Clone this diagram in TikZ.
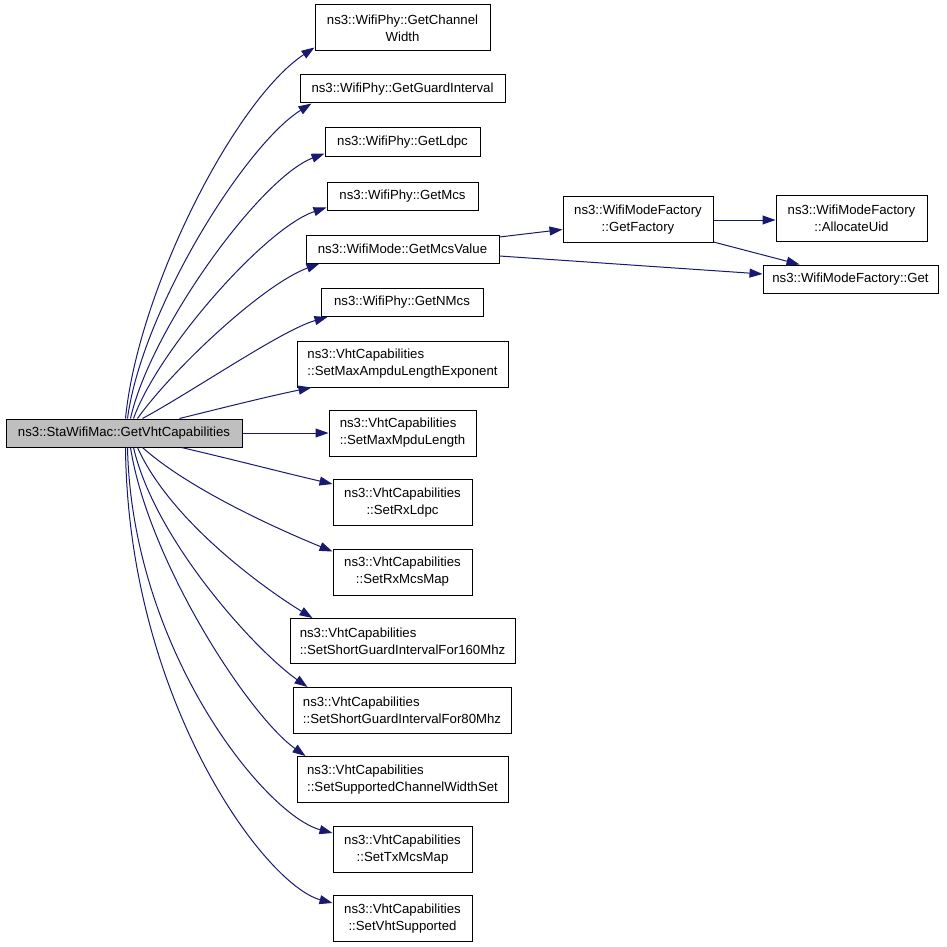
\documentclass[tikz,border=0pt]{standalone}
\usepackage{fontspec}
\setmainfont{Liberation Sans}
\usetikzlibrary{arrows.meta,calc}
\definecolor{edgeblue}{HTML}{191970}
\definecolor{maingrey}{HTML}{BFBFBF}
\tikzset{
  box/.style={draw=black,line width=1pt,fill=white,inner sep=0pt,
    font=\fontsize{13.2}{17}\selectfont,align=center},
  lbox/.style={box,align=left},
  call/.style={draw=edgeblue,line width=1pt,
    -{Triangle[length=13pt,width=9pt,fill=edgeblue]}}
}
\begin{document}
\begin{tikzpicture}[x=1pt,y=-1pt]
\useasboundingbox (0,0) rectangle (947,947);
% nodes
\node[box,fill=maingrey,minimum width=236pt,minimum height=28pt] (main) at (124,433) {ns3::StaWifiMac::GetVhtCapabilities};
\node[box,minimum width=175pt,minimum height=46pt] (cw) at (402.5,28) {ns3::WifiPhy::GetChannel\\Width};
\node[box,minimum width=205pt,minimum height=28pt] (gi) at (402.5,89) {ns3::WifiPhy::GetGuardInterval};
\node[box,minimum width=155pt,minimum height=28pt] (ldpc) at (402.5,142) {ns3::WifiPhy::GetLdpc};
\node[box,minimum width=151pt,minimum height=28pt] (mcs) at (402.5,196) {ns3::WifiPhy::GetMcs};
\node[box,minimum width=193pt,minimum height=28pt] (mcsv) at (402.5,249) {ns3::WifiMode::GetMcsValue};
\node[box,minimum width=162pt,minimum height=28pt] (nmcs) at (402,302.5) {ns3::WifiPhy::GetNMcs};
\node[lbox,minimum width=211pt,minimum height=46pt] (ampdu) at (402.5,364) {ns3::VhtCapabilities\\::SetMaxAmpduLengthExponent};
\node[lbox,minimum width=147pt,minimum height=46pt] (mpdu) at (402.5,433) {ns3::VhtCapabilities\\::SetMaxMpduLength};
\node[box,minimum width=139pt,minimum height=46pt] (rxldpc) at (402.5,502.5) {ns3::VhtCapabilities\\::SetRxLdpc};
\node[box,minimum width=139pt,minimum height=46pt] (rxmcs) at (402.5,572) {ns3::VhtCapabilities\\::SetRxMcsMap};
\node[lbox,minimum width=225pt,minimum height=45pt] (sgi160) at (402.5,641) {ns3::VhtCapabilities\\::SetShortGuardIntervalFor160Mhz};
\node[lbox,minimum width=218pt,minimum height=46pt] (sgi80) at (402,710.5) {ns3::VhtCapabilities\\::SetShortGuardIntervalFor80Mhz};
\node[lbox,minimum width=211pt,minimum height=46pt] (scws) at (402.5,779.5) {ns3::VhtCapabilities\\::SetSupportedChannelWidthSet};
\node[box,minimum width=139pt,minimum height=46pt] (tx) at (402.5,849.5) {ns3::VhtCapabilities\\::SetTxMcsMap};
\node[box,minimum width=139pt,minimum height=46pt] (vht) at (402.5,918.5) {ns3::VhtCapabilities\\::SetVhtSupported};
\node[box,minimum width=150pt,minimum height=46pt] (fac) at (638,219.5) {ns3::WifiModeFactory\\::GetFactory};
\node[box,minimum width=151pt,minimum height=46pt] (alloc) at (851.5,218) {ns3::WifiModeFactory\\::AllocateUid};
\node[box,minimum width=175pt,minimum height=28pt] (get) at (850.5,279) {ns3::WifiModeFactory::Get};
% upper edges
\draw[call] ($(main.north west)+(120,0)$) .. controls (138,290) and (235,100) .. ($(cw.south west)+(0,-4)$);
\draw[call] ($(main.north west)+(122,0)$) .. controls (142,310) and (245,145) .. ($(gi.south west)+(12,0)$);
\draw[call] ($(main.north west)+(125,0)$) .. controls (150,330) and (260,178) .. ($(ldpc.south west)+(0,-3)$);
\draw[call] ($(main.north west)+(128,0)$) .. controls (158,350) and (265,228) .. ($(mcs.south west)+(0,-3)$);
\draw[call] ($(main.north west)+(132,0)$) .. controls (172,370) and (262,285) .. ($(mcsv.south west)+(14,0)$);
\draw[call] ($(main.north west)+(137,0)$) .. controls (195,390) and (282,330) .. ($(nmcs.south west)+(7,0)$);
\draw[call] ($(main.north west)+(174,0)$) .. controls (230,406) and (270,396) .. ($(ampdu.south west)+(15,0)$);
\draw[call] (main.east) -- (mpdu.west);
% lower edges
\draw[call] ($(main.south west)+(176,0)$) .. controls (235,460) and (285,473) .. ($(rxldpc.north west)+(0,5)$);
\draw[call] ($(main.south west)+(137,0)$) .. controls (190,490) and (280,530) .. ($(rxmcs.north west)+(0,3)$);
\draw[call] ($(main.south west)+(132,0)$) .. controls (170,520) and (262,587) .. ($(sgi160.north west)+(23,0)$);
\draw[call] ($(main.south west)+(128,0)$) .. controls (155,540) and (255,650) .. ($(sgi80.north west)+(15,0)$);
\draw[call] ($(main.south west)+(125,0)$) .. controls (148,560) and (248,715) .. ($(scws.north west)+(9,0)$);
\draw[call] ($(main.south west)+(122,0)$) .. controls (132,650) and (265,815) .. ($(tx.north west)+(0,7)$);
\draw[call] ($(main.south west)+(120,0)$) .. controls (128,700) and (265,885) .. ($(vht.north west)+(0,8)$);
% right side
\draw[call] ($(mcsv.east)+(0,-12)$) -- ($(fac.west)+(0,10)$);
\draw[call] ($(mcsv.east)+(0,7)$) -- ($(get.west)+(0,-5)$);
\draw[call] ($(fac.east)+(0,0.5)$) -- ($(alloc.west)+(0,2)$);
\draw[call] ($(fac.south east)+(0,-1)$) -- ($(get.north west)+(37,0)$);
\end{tikzpicture}
\end{document}
